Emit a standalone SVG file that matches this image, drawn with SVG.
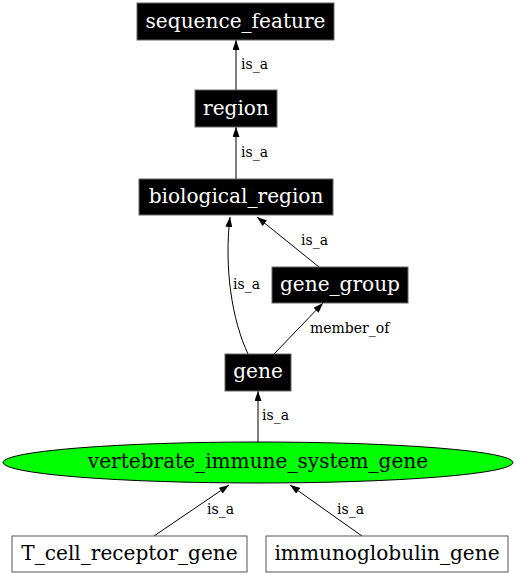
<svg xmlns="http://www.w3.org/2000/svg" width="516" height="576" viewBox="0 0 516 576">
<style>
.nt{font-family:"DejaVu Serif","Liberation Serif",serif;font-size:20.1px;text-anchor:middle}
.w{fill:#ffffff}
.k{fill:#000000}
.el{font-family:"DejaVu Serif","Liberation Serif",serif;font-size:14px;fill:#000}
.blk{fill:#000;stroke:#666;stroke-width:1}
.wht{fill:#fff;stroke:#555;stroke-width:1}
.e{fill:none;stroke:#000;stroke-width:1;marker-end:url(#ah)}
</style>
<defs>
<marker id="ah" viewBox="0 0 10 7" refX="10" refY="3.5" markerWidth="10" markerHeight="7" markerUnits="userSpaceOnUse" orient="auto">
<path d="M0,0 L10,3.5 L0,7 z" fill="#000"/>
</marker>
</defs>
<g id="edges">
<path class="e" d="M236,90 L236,40"/>
<text class="el" x="241" y="69">is_a</text>
<path class="e" d="M236,179 L236,127"/>
<text class="el" x="241" y="157">is_a</text>
<path class="e" d="M319,267 L257,217"/>
<text class="el" x="301" y="245">is_a</text>
<path class="e" d="M248,354 C232,320 224,268 230,217"/>
<text class="el" x="233" y="289">is_a</text>
<path class="e" d="M274,354 L323,303"/>
<text class="el" x="310" y="333">member_of</text>
<path class="e" d="M258,442 L258,391"/>
<text class="el" x="262" y="420">is_a</text>
<path class="e" d="M154,536 L229,485"/>
<text class="el" x="207" y="514">is_a</text>
<path class="e" d="M362,536 L290,485"/>
<text class="el" x="337" y="514">is_a</text>
</g>
<g id="sequence_feature">
<rect class="blk" x="137" y="3" width="197" height="37"/>
<text class="nt w" x="235.5" y="28">sequence_feature</text>
</g>
<g id="region">
<rect class="blk" x="195" y="90" width="82" height="37"/>
<text class="nt w" x="236" y="115">region</text>
</g>
<g id="biological_region">
<rect class="blk" x="139" y="179" width="194" height="36"/>
<text class="nt w" x="236" y="203">biological_region</text>
</g>
<g id="gene_group">
<rect class="blk" x="272" y="267" width="136" height="36"/>
<text class="nt w" x="340" y="291">gene_group</text>
</g>
<g id="gene">
<rect class="blk" x="225" y="354" width="66" height="37"/>
<text class="nt w" x="258" y="378">gene</text>
</g>
<g id="vertebrate_immune_system_gene">
<ellipse cx="258" cy="462.5" rx="255" ry="20.5" fill="#00ff00" stroke="#000"/>
<text class="nt k" x="258" y="468">vertebrate_immune_system_gene</text>
</g>
<g id="T_cell_receptor_gene">
<rect class="wht" x="12" y="536" width="235" height="36"/>
<text class="nt k" x="129.5" y="560">T_cell_receptor_gene</text>
</g>
<g id="immunoglobulin_gene">
<rect class="wht" x="266" y="536" width="242" height="36"/>
<text class="nt k" x="387" y="560">immunoglobulin_gene</text>
</g>
</svg>
